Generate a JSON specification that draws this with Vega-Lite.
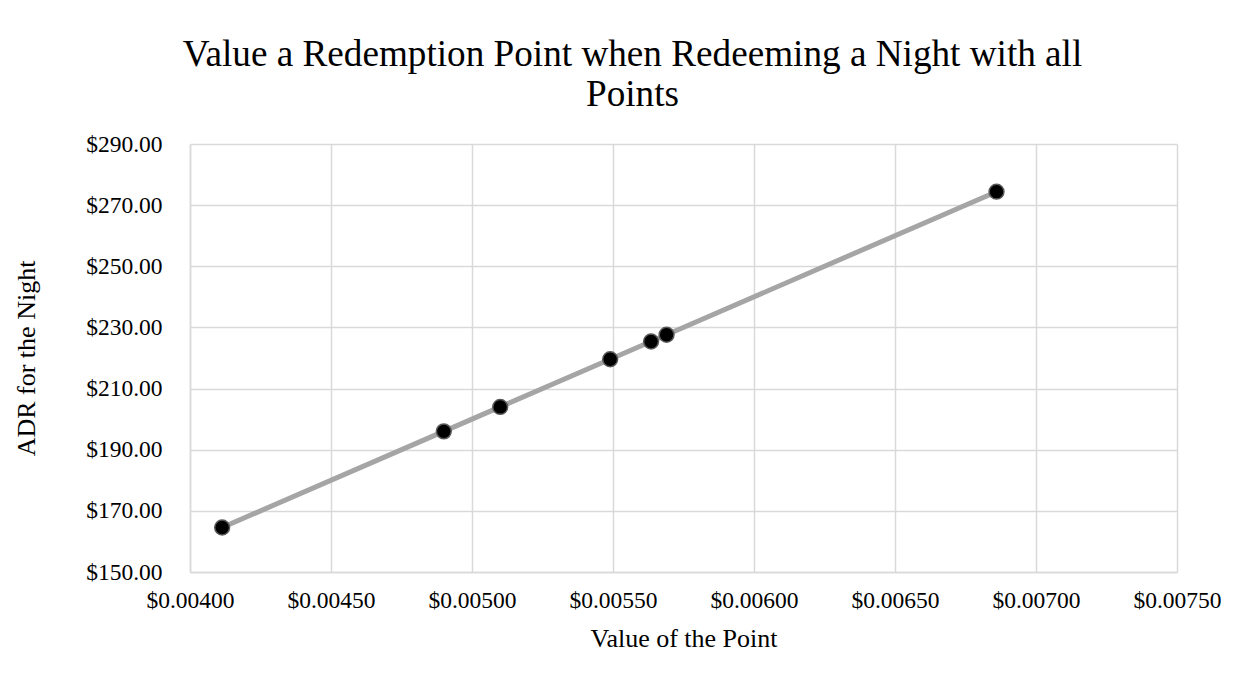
{
  "$schema": "https://vega.github.io/schema/vega-lite/v6.json",
  "width": 987,
  "height": 428,
  "autosize": "none",
  "padding": {"left": 190, "top": 144, "right": 73, "bottom": 109},
  "background": "white",
  "title": {
    "text": ["Value a Redemption Point when Redeeming a Night with all", "Points"],
    "font": "Liberation Serif",
    "fontSize": 37.2,
    "fontWeight": "normal",
    "color": "#000000",
    "lineHeight": 40,
    "anchor": "middle",
    "dx": -51,
    "offset": 18
  },
  "data": {
    "values": [
      {"value": 0.004114, "adr": 164.56},
      {"value": 0.0049, "adr": 196.0},
      {"value": 0.0051, "adr": 204.0},
      {"value": 0.00549, "adr": 219.6},
      {"value": 0.005635, "adr": 225.4},
      {"value": 0.00569, "adr": 227.6},
      {"value": 0.00686, "adr": 274.4}
    ]
  },
  "encoding": {
    "x": {
      "field": "value",
      "type": "quantitative",
      "scale": {"domain": [0.004, 0.0075], "nice": false, "zero": false},
      "axis": {
        "title": "Value of the Point",
        "values": [0.004, 0.0045, 0.005, 0.0055, 0.006, 0.0065, 0.007, 0.0075],
        "format": "$.5f",
        "labelFlush": false,
        "labelOverlap": false,
        "labelPadding": 16,
        "titlePadding": 14
      }
    },
    "y": {
      "field": "adr",
      "type": "quantitative",
      "scale": {"domain": [150, 290], "nice": false, "zero": false},
      "axis": {
        "title": "ADR for the Night",
        "values": [150, 170, 190, 210, 230, 250, 270, 290],
        "format": "$.2f",
        "labelFlush": false,
        "labelOverlap": false,
        "labelPadding": 28,
        "titlePadding": 46
      }
    }
  },
  "layer": [
    {"mark": {"type": "line", "color": "#a5a5a5", "strokeWidth": 5}},
    {"mark": {"type": "point", "filled": true, "fill": "#000000", "stroke": "#595959", "strokeWidth": 1.5, "size": 220, "shape": "circle", "opacity": 1}}
  ],
  "config": {
    "view": {"stroke": null},
    "axis": {
      "labelFont": "Liberation Serif",
      "labelFontSize": 23.5,
      "labelColor": "#000000",
      "titleFont": "Liberation Serif",
      "titleFontSize": 26,
      "titleFontWeight": "normal",
      "titleColor": "#000000",
      "gridColor": "#d9d9d9",
      "gridWidth": 1.5,
      "domainColor": "#d9d9d9",
      "domainWidth": 1.5,
      "ticks": false
    }
  }
}
